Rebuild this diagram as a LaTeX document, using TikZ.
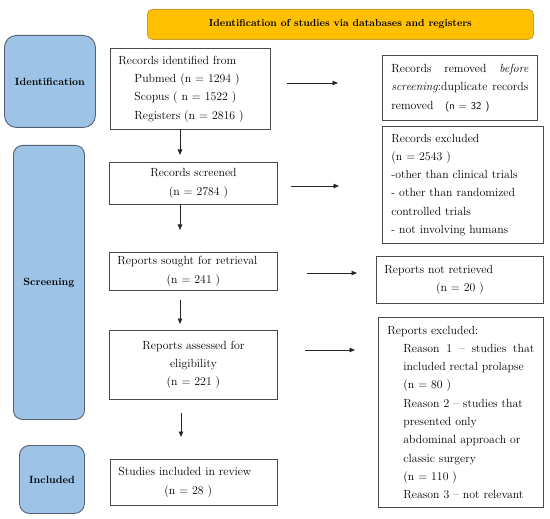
\documentclass[tikz,border=0pt]{standalone}
\usetikzlibrary{arrows.meta}
\definecolor{hdrfill}{HTML}{FFC000}
\definecolor{hdrline}{HTML}{C9A02A}
\definecolor{sidefill}{HTML}{9DC3E6}
\definecolor{sideline}{HTML}{56616E}
\definecolor{boxline}{HTML}{4A4A4A}
\newcommand{\bodyfont}{\fontsize{11.8}{18.3}\selectfont}
\begin{document}
\begin{tikzpicture}[x=1pt,y=-1pt,
  box/.style={draw=boxline, line width=0.9pt, anchor=north west, inner xsep=8pt, inner ysep=0pt, font=\bodyfont, align=left},
  sidebox/.style={draw=sideline, fill=sidefill, line width=0.9pt, anchor=north west, inner sep=0pt, font=\bfseries\fontsize{10.5}{12}\selectfont, align=center},
  arr/.style={draw=black!85, line width=0.8pt, -{Triangle[length=5.5pt,width=4.5pt]}}
]
\useasboundingbox (0,0) rectangle (550,519);
% header
\node[draw=hdrline, fill=hdrfill, line width=0.8pt, rounded corners=5pt, anchor=north west, minimum width=386pt, minimum height=30pt, inner sep=0pt, font=\bfseries\fontsize{10.2}{11}\selectfont] (hdr) at (147,9) {Identification of studies via databases and registers};
% side boxes
\node[sidebox, rounded corners=12pt, minimum width=91pt, minimum height=92pt] (sid) at (4,35) {Identification};
\node[sidebox, rounded corners=9pt, minimum width=71pt, minimum height=274pt] (sscr) at (13,145) {Screening};
\node[sidebox, rounded corners=10pt, minimum width=65pt, minimum height=68pt] (sinc) at (19,445) {Included};
% left column
\node[box, minimum width=160pt, minimum height=81pt, text width=144pt] (rid) at (110,48) {Records identified from\\
\hspace*{16pt}Pubmed (n = 1294 )\\
\hspace*{16pt}Scopus ( n = 1522 )\\
\hspace*{16pt}Registers (n = 2816 )};
\node[box, align=center, minimum width=168pt, minimum height=42pt, text width=152pt] (rscr) at (109,162) {Records screened\\ \hspace*{10pt}(n = 2784 )};
\node[box, minimum width=168pt, minimum height=38pt, text width=152pt] (rsought) at (109,252) {Reports sought for retrieval\\ \leavevmode\hbox to 152pt{\hfil(n = 241 )\hfil}};
\node[box, align=center, minimum width=168pt, minimum height=69pt, text width=152pt] (rass) at (109,330) {Reports assessed for\\ eligibility\\ (n = 221 )};
\node[box, minimum width=167pt, minimum height=46pt, text width=151pt] (rinc) at (110,459) {Studies included in review\\ \hspace*{46pt}(n = 28 )};
% right column
\node[box, inner xsep=9pt, minimum width=155pt, minimum height=65pt, text width=137pt] (rrem) at (382,55) {\leavevmode\hbox to 137pt{Records\hfill removed\hfill \emph{before}}\\
\leavevmode\hbox to 137pt{\emph{screening}:duplicate\hfill records}\\
removed\quad {\sffamily\fontsize{10.5}{18.3}\selectfont(n = 32 )}};
\node[box, inner xsep=9pt, minimum width=161pt, minimum height=117pt, text width=143pt] (rexc) at (382,126) {Records excluded\\
(n = 2543 )\\
-other than clinical trials\\
- other than randomized\\
controlled trials\\
- not involving humans};
\node[box, minimum width=167pt, minimum height=47pt, text width=151pt] (rnr) at (376,256) {Reports not retrieved\\ \leavevmode\hbox to 151pt{\hfil(n = 20 )\hfil}};
\node[box, inner xsep=9pt, minimum width=165pt, minimum height=190pt, text width=147pt] (rrex) at (378,317) {Reports excluded:\\
\hspace*{16pt}\hbox to 131pt{Reason\hfill 1\hfill --\hfill studies\hfill that}\\
\hspace*{16pt}included rectal prolapse\\
\hspace*{16pt}(n = 80 )\\
\hspace*{16pt}Reason 2 -- studies that\\
\hspace*{16pt}presented only\\
\hspace*{16pt}abdominal approach or\\
\hspace*{16pt}classic surgery\\
\hspace*{16pt}(n = 110 )\\
\hspace*{16pt}Reason 3 -- not relevant};
% connector end points
\coordinate (h1a) at (287,83);  \coordinate (h1b) at (338,83);
\coordinate (h2a) at (291,186); \coordinate (h2b) at (339,186);
\coordinate (h3a) at (307,273); \coordinate (h3b) at (357,273);
\coordinate (h4a) at (305,350); \coordinate (h4b) at (355,350);
\coordinate (v1a) at (180,129); \coordinate (v1b) at (180,155);
\coordinate (v2a) at (180,204); \coordinate (v2b) at (180,230);
\coordinate (v3a) at (180,300); \coordinate (v3b) at (180,324);
\coordinate (v4a) at (181,413); \coordinate (v4b) at (181,437);
\draw[arr] (h1a) -- (h1b);
\draw[arr] (h2a) -- (h2b);
\draw[arr] (h3a) -- (h3b);
\draw[arr] (h4a) -- (h4b);
\draw[arr] (v1a) -- (v1b);
\draw[arr] (v2a) -- (v2b);
\draw[arr] (v3a) -- (v3b);
\draw[arr] (v4a) -- (v4b);
\end{tikzpicture}
\end{document}
